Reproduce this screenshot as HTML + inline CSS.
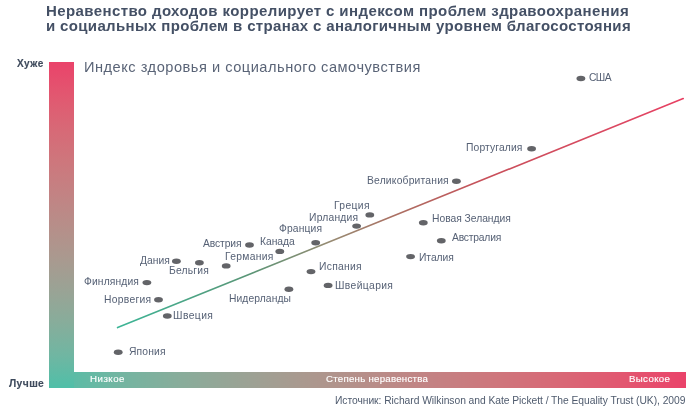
<!DOCTYPE html>
<html><head><meta charset="utf-8">
<style>
html,body{margin:0;padding:0;background:#fff;width:700px;height:412px;overflow:hidden;position:relative}
body{font-family:"Liberation Sans",sans-serif}
div{will-change:transform}
.t{position:absolute;font:bold 15px/16px "Liberation Sans",sans-serif;color:#445065;white-space:nowrap}
.lb{position:absolute;font:10.3px/12px "Liberation Sans",sans-serif;color:#566175;white-space:nowrap}
.ax{position:absolute;font:bold 10px/12px "Liberation Sans",sans-serif;color:#3e4a5c;white-space:nowrap;-webkit-text-stroke:0.15px #3e4a5c}
.bt{position:absolute;font:9.7px/12px "Liberation Sans",sans-serif;color:#fff;white-space:nowrap;-webkit-text-stroke:0.15px #fff}
#vbar{position:absolute;left:48.6px;top:61.8px;width:24.8px;height:325.8px;background:linear-gradient(to bottom,#ea436a 0%,#e25770 10%,#d86876 20%,#ce767c 30%,#c38283 40%,#b78e89 50%,#aa998f 60%,#9aa395 70%,#87ad9b 80%,#70b6a2 90%,#4fbfa8 100%)}
#hbar{position:absolute;left:48.6px;top:371.5px;width:637.4px;height:16.1px;background:linear-gradient(to right,#4fbfa8 0%,#70b6a2 10%,#87ad9b 20%,#9aa395 30%,#aa998f 40%,#b78e89 50%,#c38283 60%,#ce767c 70%,#d86876 80%,#e25770 90%,#ea436a 100%)}
</style></head><body>
<div id="t1" class="t" style="left:46.3px;top:3px;letter-spacing:0.404px">Неравенство доходов коррелирует с индексом проблем здравоохранения</div>
<div id="t2" class="t" style="left:46.3px;top:18px;letter-spacing:0.345px">и социальных проблем в странах с аналогичным уровнем благосостояния</div>
<div id="hbar"></div>
<div id="vbar"></div>
<div id="xu" class="ax" style="left:16.8px;top:58.2px;letter-spacing:0.5px">Хуже</div>
<div id="lu" class="ax" style="left:9.2px;top:378.2px;letter-spacing:0.4px;font-size:10.3px">Лучше</div>
<div id="sub" style="position:absolute;left:83.5px;top:58.6px;font:14.6px/16px 'Liberation Sans',sans-serif;color:#5a6477;letter-spacing:0.52px;white-space:nowrap">Индекс здоровья и социального самочувствия</div>
<div id="b1" class="bt" style="left:89.7px;top:373.2px;letter-spacing:0.5px">Низкое</div>
<div id="b2" class="bt" style="left:326px;top:373.4px;letter-spacing:0.25px">Степень неравенства</div>
<div id="b3" class="bt" style="left:628.6px;top:373.2px;letter-spacing:0.35px">Высокое</div>
<div id="src" class="lb" style="left:334.6px;top:394.6px;color:#4f5b6e;letter-spacing:-0.047px">Источник: Richard Wilkinson and Kate Pickett / The Equality Trust (UK), 2009</div>
<svg id="plot" width="700" height="412" style="position:absolute;left:0;top:0">
<defs><linearGradient id="lg" gradientUnits="userSpaceOnUse" x1="118" y1="327.5" x2="683.2" y2="98.6">
<stop offset="0" stop-color="#3cb596"/><stop offset="0.23" stop-color="#5a9677"/><stop offset="0.38" stop-color="#988a72"/><stop offset="0.5" stop-color="#ad6e62"/><stop offset="0.65" stop-color="#c8505a"/><stop offset="0.89" stop-color="#dc4862"/><stop offset="1" stop-color="#e83f62"/></linearGradient></defs>
<line x1="117.6" y1="327.6" x2="683.2" y2="98.6" stroke="url(#lg)" stroke-width="1.6" stroke-linecap="round"/>
<g fill="#636468">
<ellipse cx="580.9" cy="78.5" rx="4.4" ry="2.7"/>
<ellipse cx="531.6" cy="148.8" rx="4.4" ry="2.7"/>
<ellipse cx="456.4" cy="181.3" rx="4.4" ry="2.7"/>
<ellipse cx="369.8" cy="214.9" rx="4.4" ry="2.7"/>
<ellipse cx="356.6" cy="226.1" rx="4.4" ry="2.7"/>
<ellipse cx="423.3" cy="222.7" rx="4.4" ry="2.7"/>
<ellipse cx="315.7" cy="242.7" rx="4.4" ry="2.7"/>
<ellipse cx="441.3" cy="240.8" rx="4.4" ry="2.7"/>
<ellipse cx="249.5" cy="245" rx="4.4" ry="2.7"/>
<ellipse cx="279.8" cy="251.4" rx="4.4" ry="2.7"/>
<ellipse cx="410.6" cy="256.6" rx="4.4" ry="2.7"/>
<ellipse cx="176.4" cy="261.3" rx="4.4" ry="2.7"/>
<ellipse cx="199.4" cy="262.7" rx="4.4" ry="2.7"/>
<ellipse cx="226.2" cy="265.9" rx="4.4" ry="2.7"/>
<ellipse cx="311" cy="271.6" rx="4.4" ry="2.7"/>
<ellipse cx="146.9" cy="282.6" rx="4.4" ry="2.7"/>
<ellipse cx="328.1" cy="285.4" rx="4.4" ry="2.7"/>
<ellipse cx="288.9" cy="289.3" rx="4.4" ry="2.7"/>
<ellipse cx="158.5" cy="299.7" rx="4.4" ry="2.7"/>
<ellipse cx="167.3" cy="316" rx="4.4" ry="2.7"/>
<ellipse cx="118.2" cy="352.3" rx="4.4" ry="2.7"/>
</g>
</svg>
<div id="p0" class="lb" style="left:589.00px;top:72.4px;letter-spacing:-0.600px">США</div>
<div id="p1" class="lb" style="left:465.50px;top:141.7px;letter-spacing:0.134px">Португалия</div>
<div id="p2" class="lb" style="left:366.80px;top:175.1px;letter-spacing:0.200px">Великобритания</div>
<div id="p3" class="lb" style="left:334.00px;top:199.6px;letter-spacing:0.360px">Греция</div>
<div id="p4" class="lb" style="left:308.80px;top:212.4px;letter-spacing:0.228px">Ирландия</div>
<div id="p5" class="lb" style="left:432.20px;top:212.6px;letter-spacing:-0.015px">Новая Зеландия</div>
<div id="p6" class="lb" style="left:278.80px;top:223.0px;letter-spacing:0.134px">Франция</div>
<div id="p7" class="lb" style="left:452.10px;top:232.4px;letter-spacing:-0.200px">Австралия</div>
<div id="p8" class="lb" style="left:202.70px;top:237.9px;letter-spacing:-0.100px">Австрия</div>
<div id="p9" class="lb" style="left:260.00px;top:236.0px;letter-spacing:-0.040px">Канада</div>
<div id="p10" class="lb" style="left:419.20px;top:251.5px;letter-spacing:-0.040px">Италия</div>
<div id="p11" class="lb" style="left:139.50px;top:255.0px;letter-spacing:0.050px">Дания</div>
<div id="p12" class="lb" style="left:168.70px;top:264.9px;letter-spacing:0.200px">Бельгия</div>
<div id="p13" class="lb" style="left:225.00px;top:251.1px;letter-spacing:0.314px">Германия</div>
<div id="p14" class="lb" style="left:319.10px;top:261.3px;letter-spacing:0.300px">Испания</div>
<div id="p15" class="lb" style="left:84.40px;top:276.1px;letter-spacing:0.125px">Финляндия</div>
<div id="p16" class="lb" style="left:335.30px;top:280.3px;letter-spacing:0.375px">Швейцария</div>
<div id="p17" class="lb" style="left:229.00px;top:292.7px;letter-spacing:0.088px">Нидерланды</div>
<div id="p18" class="lb" style="left:104.30px;top:293.6px;letter-spacing:0.285px">Норвегия</div>
<div id="p19" class="lb" style="left:173.00px;top:309.9px;letter-spacing:0.440px">Швеция</div>
<div id="p20" class="lb" style="left:129.10px;top:345.7px;letter-spacing:0.160px">Япония</div>
</body></html>
